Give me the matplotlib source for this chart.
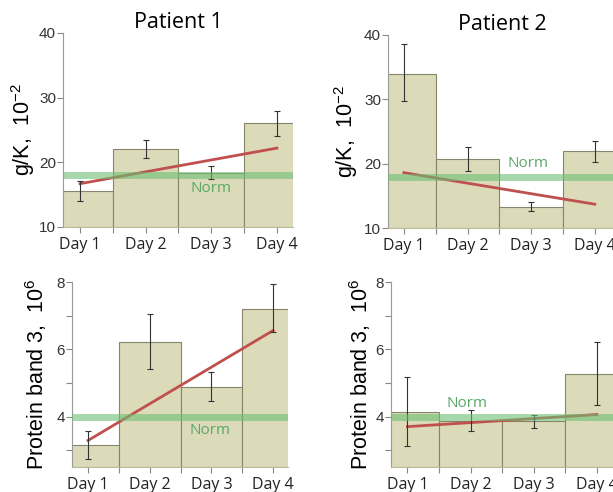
import matplotlib
matplotlib.use("Agg")
import matplotlib.pyplot as plt
from matplotlib.ticker import FixedLocator, NullFormatter

days = ["Day 1", "Day 2", "Day 3", "Day 4"]

# Patient 1, g/K (10^-2)
p1_gk = [15.5, 22.1, 18.4, 26.1]
p1_gk_lo = [14.0, 20.7, 17.5, 24.0]
p1_gk_hi = [17.1, 23.4, 19.4, 28.0]
p1_gk_trend = [16.7, 22.2]

# Patient 2, g/K (10^-2)
p2_gk = [34.0, 20.7, 13.3, 21.9]
p2_gk_lo = [29.7, 18.9, 12.7, 20.2]
p2_gk_hi = [38.6, 22.6, 14.0, 23.6]
p2_gk_trend = [18.6, 13.7]

# Patient 1, protein band 3 (10^6)
p1_pb = [3.16, 6.22, 4.89, 7.20]
p1_pb_lo = [2.73, 5.42, 4.45, 6.50]
p1_pb_hi = [3.57, 7.04, 5.31, 7.95]
p1_pb_trend = [3.29, 6.56]

# Patient 2, protein band 3 (10^6)
p2_pb = [4.14, 3.88, 3.86, 5.26]
p2_pb_lo = [3.12, 3.57, 3.66, 4.33]
p2_pb_hi = [5.19, 4.20, 4.04, 6.22]
p2_pb_trend = [3.70, 4.06]

norm_gk = 18.0
norm_pb = 4.0

W, H = 613, 492
fig = plt.figure(figsize=(W / 100, H / 100), dpi=100)

def px_axes(l, r, t, b):
    return fig.add_axes([l / W, 1 - b / H, (r - l) / W, (b - t) / H])

BAR = "#dbdab9"
EDGE = "#85856c"
RED = "#c0504d"
GREEN = "#6cbf73"
NORMTXT = "#5aa86a"

def panel(ax, vals, lo, hi, trend, norm, ylim, major, minor, xlim, norm_xy,
          ylabel, label_x, title=None):
    x = list(range(len(vals)))
    ax.bar(x, [v - ylim[0] for v in vals], bottom=ylim[0], width=1.0,
           color=BAR, edgecolor=EDGE, linewidth=0.8, zorder=1)
    yerr = [[v - l for v, l in zip(vals, lo)], [h - v for v, h in zip(vals, hi)]]
    ax.errorbar(x, vals, yerr=yerr, fmt="none", ecolor="#333333", elinewidth=0.8,
                capsize=2.2, capthick=0.8, zorder=3)
    ax.plot([x[0], x[-1]], trend, color=RED, linewidth=2.0, zorder=2)
    ax.axhline(norm, color=GREEN, linewidth=5, alpha=0.6, zorder=4)
    ax.text(norm_xy[0], norm_xy[1], "Norm", color=NORMTXT, fontsize=11,
            family="Open Sans", ha="center", va="center", zorder=5)
    ax.set_xlim(*xlim)
    ax.set_ylim(*ylim)
    ax.set_xticks(x)
    ax.set_xticklabels(days, fontsize=11.5, family="Open Sans", color="#222222")
    ax.xaxis.set_minor_locator(FixedLocator([0.5, 1.5, 2.5]))
    ax.yaxis.set_major_locator(FixedLocator(major))
    ax.yaxis.set_minor_locator(FixedLocator(minor))
    ax.yaxis.set_minor_formatter(NullFormatter())
    for lab in ax.get_yticklabels():
        lab.set_fontsize(11)
        lab.set_color("#333333")
        lab.set_family("Liberation Sans")
    ax.tick_params(axis="both", which="both", color="#888888", length=4, width=0.8)
    ax.tick_params(axis="y", which="major", pad=1)
    ax.tick_params(axis="x", which="major", pad=3)
    for s in ["top", "right"]:
        ax.spines[s].set_visible(False)
    ax.spines["left"].set_color("#999999")
    ax.spines["bottom"].set_color("#bdbb9a")
    ax.set_ylabel(ylabel, fontsize=15.5, family="Liberation Sans")
    ax.yaxis.label.set_va("center")
    ax.yaxis.set_label_coords(label_x, 0.5)
    if title:
        ax.set_title(title, fontsize=15.5, family="Open Sans", pad=1)
    ax.set_facecolor("none")

ax1 = px_axes(63, 293, 33, 227)
panel(ax1, p1_gk, p1_gk_lo, p1_gk_hi, p1_gk_trend, norm_gk, (10, 40),
      [10, 20, 30, 40], [], (-0.26, 3.245), (2.0, 16.0),
      r"g/K,  10$^{\mathregular{-2}}$", -0.175, "Patient 1")

ax2 = px_axes(388, 617, 35, 228)
panel(ax2, p2_gk, p2_gk_lo, p2_gk_hi, p2_gk_trend, norm_gk, (10, 40),
      [10, 20, 30, 40], [], (-0.25, 3.35), (1.95, 20.0),
      r"g/K,  10$^{\mathregular{-2}}$", -0.185, "Patient 2")

ax3 = px_axes(72, 288, 282, 467)
panel(ax3, p1_pb, p1_pb_lo, p1_pb_hi, p1_pb_trend, norm_pb, (2.5, 8),
      [4, 6, 8], [3, 5, 7], (-0.26, 3.24), (1.98, 3.6),
      r"Protein band 3,  10$^{\mathregular{6}}$", -0.165)

ax4 = px_axes(391, 619, 282, 467)
panel(ax4, p2_pb, p2_pb_lo, p2_pb_hi, p2_pb_trend, norm_pb, (2.5, 8),
      [4, 6, 8], [3, 5, 7], (-0.26, 3.35), (0.94, 4.38),
      r"Protein band 3,  10$^{\mathregular{6}}$", -0.135)

fig.savefig("out.png", dpi=100)
